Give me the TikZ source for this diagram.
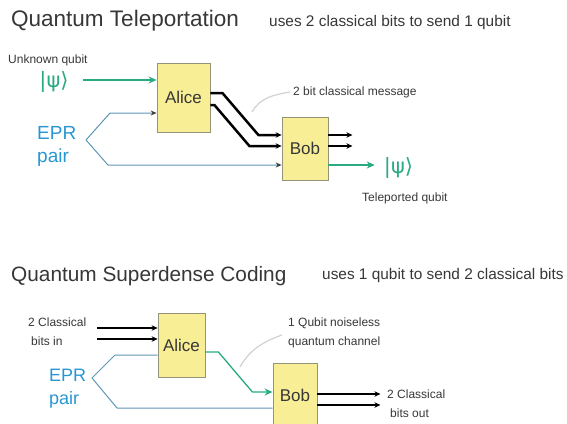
\documentclass[tikz,border=0pt]{standalone}
\usepackage{fontspec}
\setmainfont{Liberation Sans}
\newfontfamily\ketfont{DejaVu Sans}
\usetikzlibrary{arrows.meta, positioning, calc}
\definecolor{boxfill}{RGB}{248,238,150}
\definecolor{boxdraw}{RGB}{150,148,120}
\definecolor{textgray}{RGB}{55,55,55}
\definecolor{qgreen}{RGB}{40,170,130}
\definecolor{eprtext}{RGB}{40,150,210}
\definecolor{eprline}{RGB}{95,150,180}

\begin{document}
\begin{tikzpicture}[
  x=1pt, y=-1pt,
  box/.style={draw=boxdraw, fill=boxfill, line width=0.8pt, inner sep=0pt, text=textgray, font=\fontsize{17}{17}\selectfont},
  heading/.style={anchor=west, inner sep=0pt, text=textgray, font=\fontsize{22.5}{23}\selectfont},
  subhead/.style={anchor=west, inner sep=0pt, text=textgray, font=\fontsize{15.4}{16}\selectfont},
  note/.style={anchor=west, inner sep=0pt, align=left, text=textgray, font=\fontsize{12}{19.5}\selectfont},
  ket/.style={inner sep=0pt, text=qgreen, font=\ketfont\fontsize{21}{21}\selectfont},
  epr/.style={anchor=west, inner sep=0pt, align=left, text=eprtext, font=\fontsize{19}{23}\selectfont},
  cbit/.style={-{Stealth[length=6pt,width=5.5pt]}, line width=2.5pt},
  qarr/.style={-{Stealth[length=8pt,width=7pt]}, qgreen, line width=1.3pt},
  earr/.style={-{Stealth[length=6pt,width=5pt,color=black!75]}, eprline, line width=1pt},
  eline/.style={eprline, line width=1pt},
  pointer/.style={draw=black!18, line width=1.2pt}
]
\useasboundingbox (0,0) rectangle (567,423);
\clip (0,0) rectangle (567,423);

% teleportation
\node[heading] (tptitle) at (11,21) {Quantum Teleportation};
\node[subhead] (tpsub) at (269,23) {uses 2 classical bits to send 1 qubit};
\node[note] (unknown) at (8,60) {Unknown qubit};
\node[ket] (psiin) at (54,82) {|ψ⟩};
\node[epr] (epr) at (37,146.5) {EPR\\pair};
\coordinate (split) at (86,140);
\node[box, minimum width=53pt, minimum height=69pt] (alice) at (183.5,97.5) {Alice};
\node[box, minimum width=46pt, minimum height=63pt] (bob) at (305,148.5) {Bob};
\node[note] (msg) at (293,92) {2 bit classical message};
\coordinate (msgtip) at (252,112);
\node[ket] (psiout) at (398.5,168) {|ψ⟩};
\node[note] (tpd) at (362,198) {Teleported qubit};

\draw[qarr] ([xshift=14pt,yshift=2pt]psiin.east) -- ([yshift=17.5pt]alice.west);
\draw[earr] (split) -- (110,113) -- ([yshift=-15.5pt]alice.west);
\draw[earr] (split) -- (108,165) -- ([yshift=-16.5pt]bob.west);
\draw[cbit] ([yshift=4.5pt]alice.east) -- ++(12,0) -- ++(36,42) -- ([yshift=13.5pt]bob.west);
\draw[cbit] ([yshift=-7.5pt]alice.east) -- ++(4,0) -- ++(35,41) -- ([yshift=2.5pt]bob.west);
\draw[cbit] ([yshift=13.5pt]bob.east) -- ++(24,0);
\draw[cbit] ([yshift=2.5pt]bob.east) -- ++(24,0);
\draw[qarr] ([yshift=-16.5pt]bob.east) -- ([xshift=-9pt,yshift=3pt]psiout.west);
\draw[pointer] ([xshift=-3pt]msg.west) to[out=190,in=60] (msgtip);

% superdense coding
\node[heading, font=\fontsize{20.8}{21}\selectfont] (sdtitle) at (11,276) {Quantum Superdense Coding};
\node[subhead] (sdsub) at (322,276) {uses 1 qubit to send 2 classical bits};
\node[note] (bitsin) at (28,331.5) {2 Classical\\\hspace*{3pt}bits in};
\coordinate (in1) at (97,328);
\coordinate (in2) at (97,339);
\node[epr, font=\fontsize{18}{23}\selectfont] (epr2) at (49,388.5) {EPR\\pair};
\coordinate (split2) at (92,378);
\node[box, minimum width=47pt, minimum height=64pt] (alice2) at (181.5,345) {Alice};
\node[box, minimum width=44pt, minimum height=64pt] (bob2) at (295,395) {Bob};
\node[note] (channel) at (288,333) {1 Qubit noiseless\\quantum channel};
\coordinate (chantip) at (240,367);
\node[note] (bitsout) at (387,403.5) {2 Classical\\\hspace*{3pt}bits out};

\draw[cbit] (in1) -- (in1 -| alice2.west);
\draw[cbit] (in2) -- (in2 -| alice2.west);
\draw[eline] (split2) -- (115,355) -- ([yshift=-10pt]alice2.west);
\draw[eline] (split2) -- (117,408) -- ([yshift=-13pt]bob2.west);
\draw[qarr] ([yshift=-7pt]alice2.east) -- ++(13,0) -- ++(34,40) -- ([yshift=3pt]bob2.west);
\draw[cbit] ([yshift=1pt]bob2.east) -- ++(63,0);
\draw[cbit] ([yshift=-10pt]bob2.east) -- ++(63,0);
\draw[pointer] ([xshift=-6pt,yshift=-2pt]channel.west) to[out=200,in=60] (chantip);
\end{tikzpicture}
\end{document}
